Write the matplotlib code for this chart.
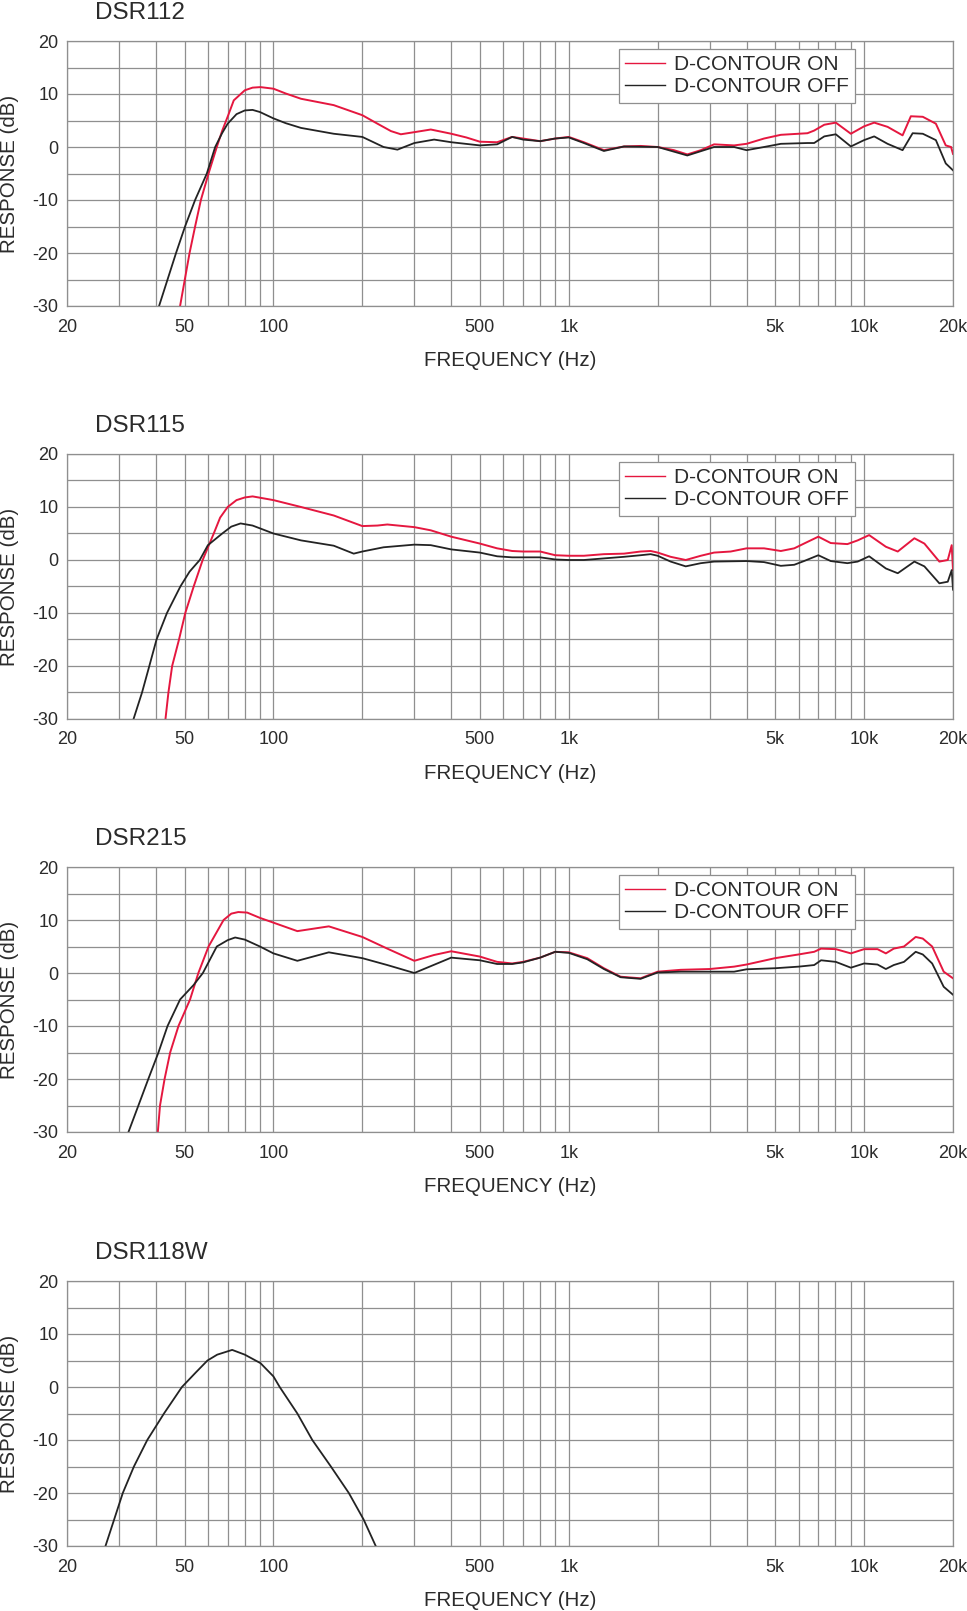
import matplotlib.pyplot as plt
from matplotlib.ticker import NullFormatter

plt.rcParams['font.family'] = ['Liberation Sans', 'DejaVu Sans']
plt.rcParams['axes.unicode_minus'] = False

# ---- data (frequency in Hz, response in dB) ----
dsr112_on_f = [48.3, 52.0, 54.3, 56.8, 60.3, 64.3, 67, 70.3, 73.4, 80, 85, 90.4, 100, 110, 124,
               160, 200, 225, 250, 270, 300, 341, 400, 450, 500, 572, 643, 700, 800, 900, 1000,
               1125, 1315, 1538, 1751, 2000, 2271, 2520, 2800, 3105, 3630, 4000, 4585, 5225,
               6430, 6775, 7330, 8020, 9020, 10000, 10820, 12010, 13500, 14400, 15800, 17500,
               18900, 19700, 20000]
dsr112_on_db = [-30, -20, -15, -10, -5, 0, 3.0, 6.0, 8.8, 10.7, 11.2, 11.3, 11.0, 10.1, 9.1,
                7.9, 6.0, 4.4, 3.0, 2.4, 2.8, 3.3, 2.5, 1.8, 1.0, 0.9, 1.9, 1.6, 1.1, 1.6, 1.9,
                0.9, -0.6, 0.1, 0.2, 0.0, -0.6, -1.4, -0.6, 0.5, 0.3, 0.6, 1.6, 2.3,
                2.6, 3.1, 4.2, 4.6, 2.5, 3.9, 4.6, 3.8, 2.2, 5.8, 5.7, 4.4,
                0.3, 0.0, -1.3]
dsr112_off_f = [41.0, 46.8, 50.2, 54.3, 59.5, 63.5, 67, 70, 75, 80, 85, 90, 100, 110, 124, 160,
                200, 236, 263, 300, 350, 400, 500, 572, 643, 700, 800, 900, 1000, 1125, 1315,
                1538, 2000, 2520, 3105, 3630, 4000, 4585, 5225, 6430, 6775, 7330, 8020, 9020,
                10000, 10820, 12010, 13500, 14600, 15800, 17500, 18900, 20000]
dsr112_off_db = [-30, -20, -15, -10, -5, 0, 2.6, 4.4, 6.2, 6.9, 7.0, 6.6, 5.4, 4.5, 3.6, 2.5,
                 1.9, 0.0, -0.5, 0.75, 1.4, 0.9, 0.3, 0.5, 1.9, 1.4, 1.1, 1.6, 1.8, 0.75, -0.75,
                 0.1, 0.0, -1.6, 0.0, 0.0, -0.6, 0.0, 0.6, 0.75, 0.75, 2.0, 2.4, 0.1,
                 1.3, 2.0, 0.6, -0.6, 2.6, 2.5, 1.3, -3.1, -4.4]

dsr115_on_f = [43.1, 44.1, 45.4, 47.9, 50.3, 53.7, 57.6, 62.8, 66, 70, 75, 80, 85, 100, 124,
               160, 200, 225, 243, 300, 341, 400, 500, 572, 643, 700, 800, 900, 1000, 1125,
               1315, 1538, 1751, 1894, 2000, 2213, 2489, 2800, 3105, 3534, 4000, 4585, 5225,
               5800, 6260, 7000, 7710, 8780, 9510, 10400, 11850, 13000, 14800, 16000, 17980,
               19200, 19800, 20000]
dsr115_on_db = [-30, -25, -20, -15, -10, -5, 0, 5, 8.0, 10.0, 11.3, 11.8, 12.0, 11.3, 10.0,
                8.4, 6.4, 6.5, 6.7, 6.2, 5.6, 4.4, 3.1, 2.2, 1.7, 1.6, 1.6, 0.9, 0.8, 0.8,
                1.1, 1.2, 1.6, 1.7, 1.4, 0.6, 0.0, 0.8, 1.4, 1.6, 2.2, 2.2, 1.7,
                2.2, 3.1, 4.4, 3.2, 3.0, 3.7, 4.7, 2.5, 1.6, 4.1, 3.1, -0.3,
                0.0, 2.8, -1.9]
dsr115_off_f = [33.6, 35.9, 38.0, 40.2, 43.6, 48.4, 52, 56.3, 60, 67.1, 72, 77.4, 85, 100, 124,
                160, 187, 200, 236, 300, 341, 400, 500, 572, 643, 700, 800, 900, 1000, 1125,
                1315, 1538, 1751, 1894, 2000, 2213, 2489, 2800, 3105, 4000, 4585, 5225, 5800,
                6260, 7000, 7710, 8780, 9510, 10400, 11850, 13000, 14800, 16000, 17980, 19200,
                19800, 20000]
dsr115_off_db = [-30, -25, -20, -15, -10, -5, -2.2, 0, 2.8, 5.0, 6.3, 6.9, 6.5, 5.0, 3.7,
                 2.7, 1.2, 1.6, 2.4, 2.9, 2.8, 2.0, 1.4, 0.7, 0.5, 0.5, 0.5, 0.1, 0.0, 0.0,
                 0.3, 0.6, 0.9, 1.1, 0.8, -0.3, -1.2, -0.6, -0.3, -0.2, -0.4, -1.1, -0.9,
                 -0.2, 0.9, -0.2, -0.6, -0.3, 0.7, -1.6, -2.5, -0.3, -1.2, -4.4, -4.1,
                 -1.9, -5.6]

dsr215_on_f = [40.6, 41.3, 42.8, 44.7, 47.7, 52.2, 55.7, 60.3, 67.8, 72, 76, 81.5, 90, 100,
               120.5, 154, 200, 243, 300, 350, 400, 500, 572, 643, 700, 800, 900, 1000, 1155,
               1315, 1498, 1751, 2000, 2394, 3000, 3630, 4000, 5000, 6000, 6775, 7150, 8020,
               9020, 10000, 11100, 11850, 12600, 13650, 14950, 15800, 17000, 18600, 20000]
dsr215_on_db = [-30, -25, -20, -15, -10, -5, 0, 5, 10, 11.2, 11.5, 11.4, 10.4, 9.5,
                7.9, 8.8, 6.8, 4.6, 2.3, 3.4, 4.1, 3.1, 2.1, 1.8, 2.1, 2.9, 4.0, 3.9, 2.8,
                0.9, -0.7, -1.0, 0.25, 0.6, 0.75, 1.2, 1.6, 2.8, 3.5, 4.0, 4.6, 4.5,
                3.7, 4.5, 4.5, 3.7, 4.6, 5.0, 6.8, 6.5, 5.0, 0.25, -1.0]
dsr215_off_f = [32.3, 34.9, 37.7, 40.8, 43.8, 48.3, 53.6, 57.7, 64.3, 70, 74.2, 80, 90, 100,
                120.5, 154, 200, 243, 300, 400, 500, 572, 643, 700, 800, 900, 1000, 1155, 1315,
                1498, 1751, 2000, 2394, 3000, 3630, 4000, 5000, 6000, 6775, 7150, 8020, 9020,
                10000, 11100, 11850, 12600, 13650, 14950, 15800, 17000, 18600, 20000]
dsr215_off_db = [-30, -25, -20, -15, -10, -5, -2.3, 0, 5, 6.2, 6.7, 6.3, 5.0, 3.7,
                 2.3, 3.9, 2.8, 1.5, 0.0, 2.9, 2.4, 1.7, 1.7, 2.0, 2.9, 4.0, 3.8, 2.6, 0.75,
                 -0.8, -1.1, 0.1, 0.25, 0.25, 0.25, 0.7, 0.9, 1.2, 1.5, 2.4, 2.1, 1.0,
                 1.8, 1.6, 0.75, 1.5, 2.1, 4.0, 3.5, 1.8, -2.6, -4.1]

dsr118w_f = [27, 30.9, 33.7, 37.4, 42.6, 49, 54.5, 59.8, 64.5, 72.5, 80, 90.4, 100, 105, 120.5,
             135.4, 156.5, 180, 202, 222]
dsr118w_db = [-30, -20, -15, -10, -5, 0, 2.7, 5.0, 6.1, 7.0, 6.1, 4.5, 2.0, 0, -5,
              -10, -15, -20, -25, -30]

xtick_vals = [20, 50, 100, 500, 1000, 5000, 10000, 20000]
xtick_labels = ['20', '50', '100', '500', '1k', '5k', '10k', '20k']
ytick_vals = [-30, -20, -10, 0, 10, 20]

panels = [
    ('DSR112', dsr112_on_f, dsr112_on_db, dsr112_off_f, dsr112_off_db),
    ('DSR115', dsr115_on_f, dsr115_on_db, dsr115_off_f, dsr115_off_db),
    ('DSR215', dsr215_on_f, dsr215_on_db, dsr215_off_f, dsr215_off_db),
    ('DSR118W', None, None, dsr118w_f, dsr118w_db),
]

RED = '#e5173f'
BLACK = '#232323'
GRID = '#8f8f8f'
TEXT = '#2b2b2b'

W, H = 967, 1611
fig = plt.figure(figsize=(W / 100, H / 100), dpi=100)

tops = [41, 454, 867, 1281]
ax_h = 265
ax_l, ax_w = 67, 886

minor = [m * d for d in (10, 100, 1000, 10000) for m in range(2, 10) if 20 <= m * d <= 20000]

for (name, on_f, on_db, off_f, off_db), top in zip(panels, tops):
    ax = fig.add_axes([ax_l / W, 1 - (top + ax_h) / H, ax_w / W, ax_h / H])
    ax.set_xscale('log')
    ax.set_xlim(20, 20000)
    ax.set_ylim(-30, 20)

    if on_f is not None:
        ax.plot(on_f, on_db, color=RED, lw=1.4, label='D-CONTOUR ON', solid_joinstyle='round')
    ax.plot(off_f, off_db, color=BLACK, lw=1.3, label='D-CONTOUR OFF', solid_joinstyle='round')

    ax.set_xticks(minor, minor=True)
    ax.xaxis.set_minor_formatter(NullFormatter())
    ax.set_xticks(xtick_vals)
    ax.set_xticklabels(xtick_labels)
    ax.set_yticks(ytick_vals)
    ax.set_yticks([-25, -15, -5, 5, 15], minor=True)
    ax.grid(True, which='both', color=GRID, lw=0.9)
    ax.set_axisbelow(True)
    ax.tick_params(which='both', length=0, labelsize=13, labelcolor=TEXT)
    ax.tick_params(axis='x', pad=9)
    ax.tick_params(axis='y', pad=6)
    for s in ax.spines.values():
        s.set_color(GRID)
        s.set_linewidth(0.9)

    ax.set_xlabel('FREQUENCY (Hz)', fontsize=14.8, color=TEXT)
    ax.xaxis.set_label_coords(0.5, -55 / ax_h)
    ax.xaxis.label.set_va('center')
    ax.set_ylabel('RESPONSE (dB)', fontsize=14.8, color=TEXT)
    ax.yaxis.set_label_coords(-57 / ax_w, 0.5)
    ax.yaxis.label.set_va('center')

    fig.text(95 / W, 1 - (top - 22) / H, name, fontsize=17.5, color=TEXT,
             va='baseline', ha='left')

    if on_f is not None:
        leg = ax.legend(loc='upper left', bbox_to_anchor=((619 - ax_l) / ax_w, 1 - 8 / ax_h),
                        borderaxespad=0, fontsize=15, frameon=True, fancybox=False,
                        edgecolor=GRID, framealpha=1, handlelength=1.9, handletextpad=0.45,
                        borderpad=0.3, labelspacing=0.15)
        leg.get_frame().set_linewidth(0.9)
        for t in leg.get_texts():
            t.set_color(TEXT)
        for ln in leg.get_lines():
            ln.set_linewidth(1.0)

fig.savefig('out.png', dpi=100)
